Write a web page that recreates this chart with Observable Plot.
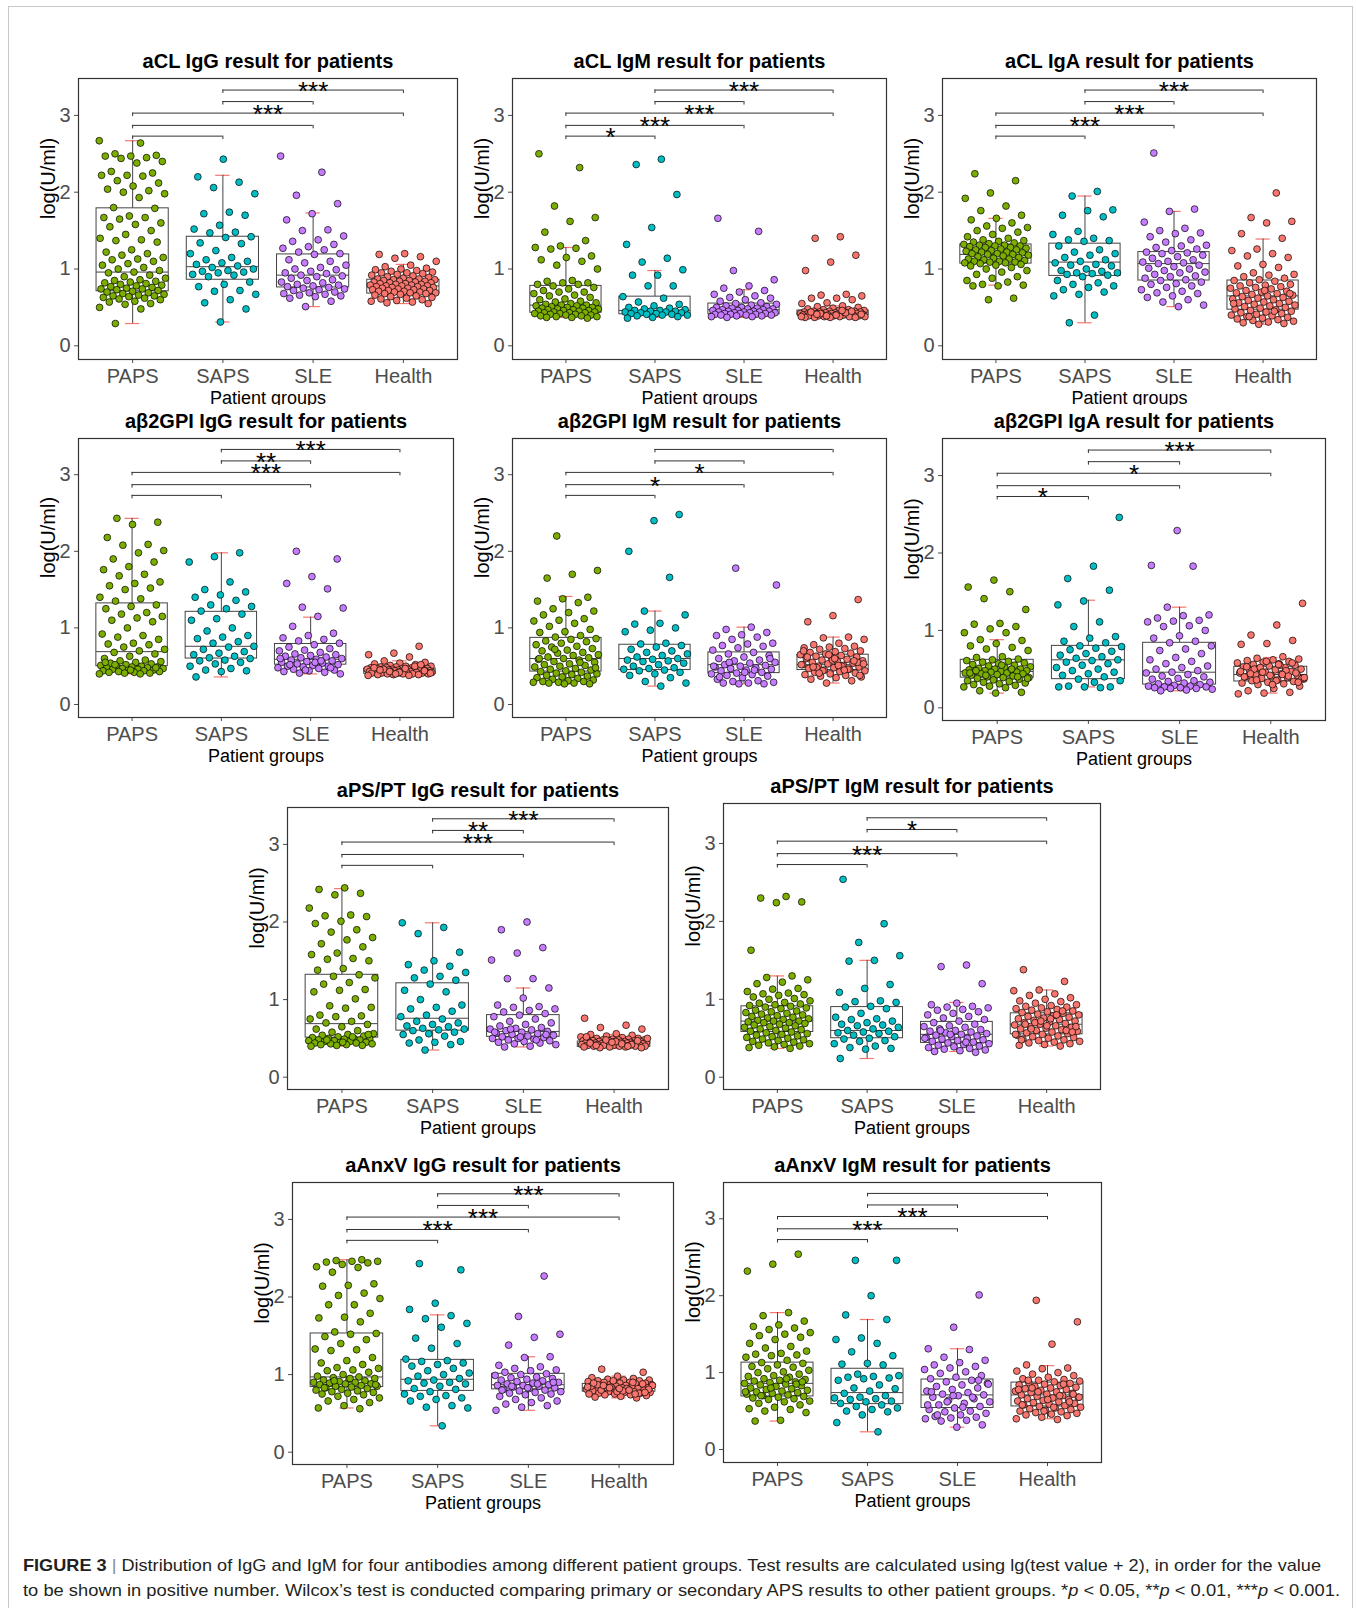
<!DOCTYPE html>
<html><head><meta charset="utf-8">
<script src="https://cdn.jsdelivr.net/npm/d3@7"></script>
<script src="https://cdn.jsdelivr.net/npm/@observablehq/plot@0.6"></script>
<style>
html,body{margin:0;padding:0;background:#fff;}
body{width:1356px;height:1608px;position:relative;overflow:hidden;font-family:"Liberation Sans",Arial,sans-serif;}
#frame{position:absolute;left:8px;top:6px;width:1345px;height:1700px;border:1px solid #c8c8c8;box-sizing:border-box;}
.panel{position:absolute;overflow:hidden;}
.panel svg{display:block;}
.cap{position:absolute;left:23px;font-size:17px;line-height:25px;color:#231f20;white-space:nowrap;transform-origin:0 0;}
.bar{color:#888;}
</style></head><body>
<div id="frame"></div>
<div class="cap" id="cap1" style="top:1553px"><b>FIGURE 3</b> <span class="bar">|</span> Distribution of IgG and IgM for four antibodies among different patient groups. Test results are calculated using lg(test value + 2), in order for the value</div>
<div class="cap" id="cap2" style="top:1578px">to be shown in positive number. Wilcox’s test is conducted comparing primary or secondary APS results to other patient groups. *<i>p</i> &lt; 0.05, **<i>p</i> &lt; 0.01, ***<i>p</i> &lt; 0.001.</div>
<script>
// ---------- categories, labels ----------
const groups = ["PAPS","SAPS","SLE","Health"];
const groupColors = ["#7CAE00","#00BFC4","#C77CFF","#F8766D"];
const comparisons = [[1,2],[1,3],[1,4],[2,3],[2,4]];
const bracketLevels = [2.73,2.87,3.03,3.18,3.33];
const yTicks = [0,1,2,3];
const titles = ["aCL IgG result for patients","aCL IgM result for patients","aCL IgA result for patients",
  "aβ2GPI IgG result for patients","aβ2GPI IgM result for patients","aβ2GPI IgA result for patients",
  "aPS/PT IgG result for patients","aPS/PT IgM result for patients",
  "aAnxV IgG result for patients","aAnxV IgM result for patients"];

// ---------- aCL IgG ----------
const aclIgG_PAPS = [2.67,2.64,2.50,2.48,2.47,2.47,2.45,2.44,2.40,2.38,2.27,2.25,2.22,2.22,2.21,2.15,2.12,2.08,2.04,2.02,2.00,1.98,1.93,1.80,1.79,1.69,1.67,1.67,1.65,1.60,1.58,1.55,1.50,1.45,1.40,1.38,1.37,1.35,1.25,1.22,1.20,1.18,1.15,1.13,1.12,1.10,1.07,1.05,1.02,1.00,0.98,0.96,0.95,0.92,0.90,0.88,0.86,0.85,0.84,0.83,0.82,0.81,0.80,0.79,0.78,0.77,0.76,0.75,0.74,0.74,0.73,0.72,0.71,0.70,0.69,0.68,0.67,0.66,0.65,0.65,0.64,0.63,0.62,0.61,0.60,0.58,0.57,0.55,0.54,0.50,0.48,0.29];
const aclIgG_SAPS = [2.43,2.20,2.13,2.06,1.98,1.74,1.72,1.70,1.57,1.52,1.48,1.47,1.42,1.41,1.34,1.33,1.24,1.20,1.15,1.12,1.10,1.08,1.06,1.04,1.02,1.00,0.98,0.97,0.96,0.95,0.93,0.92,0.90,0.83,0.80,0.77,0.72,0.71,0.67,0.60,0.56,0.48,0.31];
const aclIgG_SLE = [2.47,2.26,1.96,1.85,1.72,1.64,1.51,1.50,1.43,1.38,1.36,1.32,1.29,1.27,1.25,1.22,1.20,1.19,1.12,1.10,1.08,1.05,1.02,1.00,0.99,0.97,0.95,0.94,0.92,0.91,0.90,0.88,0.86,0.85,0.83,0.82,0.80,0.79,0.78,0.77,0.76,0.75,0.74,0.73,0.72,0.70,0.69,0.68,0.67,0.66,0.65,0.64,0.62,0.58,0.51];
const aclIgG_Health = [1.20,1.19,1.16,1.14,1.10,1.05,1.03,1.01,1.00,0.99,0.98,0.97,0.96,0.95,0.95,0.94,0.93,0.92,0.91,0.90,0.89,0.88,0.87,0.87,0.86,0.86,0.85,0.85,0.84,0.84,0.83,0.83,0.82,0.82,0.81,0.81,0.80,0.80,0.79,0.79,0.78,0.78,0.78,0.77,0.77,0.76,0.76,0.75,0.75,0.74,0.74,0.73,0.73,0.72,0.72,0.71,0.71,0.70,0.70,0.69,0.69,0.68,0.68,0.67,0.66,0.65,0.64,0.63,0.62,0.61,0.60,0.59,0.58,0.57,0.56,0.55];
const aclIgG_box = [[0.29,0.71,0.96,1.79,2.67],[0.31,0.86,1.03,1.42,2.22],[0.51,0.76,0.92,1.19,1.73],[0.55,0.68,0.78,0.86,1.06]];
const aclIgG_sig = ["","","***","","***"];

// ---------- aCL IgM ----------
const aclIgM_PAPS = [2.50,2.32,1.82,1.67,1.62,1.48,1.37,1.30,1.28,1.27,1.26,1.17,1.15,1.12,1.10,1.05,1.00,0.85,0.84,0.82,0.82,0.80,0.80,0.78,0.76,0.74,0.72,0.70,0.70,0.68,0.66,0.65,0.63,0.61,0.60,0.58,0.57,0.56,0.55,0.54,0.53,0.53,0.52,0.52,0.51,0.50,0.50,0.49,0.49,0.48,0.48,0.47,0.47,0.46,0.46,0.45,0.45,0.44,0.44,0.43,0.43,0.43,0.42,0.42,0.41,0.41,0.40,0.40,0.39,0.39,0.38,0.38,0.37,0.37,0.36];
const aclIgM_SAPS = [2.43,2.36,1.97,1.54,1.32,1.14,1.09,0.99,0.92,0.92,0.78,0.78,0.64,0.62,0.57,0.54,0.52,0.50,0.49,0.48,0.47,0.46,0.46,0.45,0.45,0.44,0.44,0.43,0.43,0.42,0.42,0.41,0.41,0.40,0.40,0.39,0.38,0.37,0.36];
const aclIgM_SLE = [1.66,1.49,0.98,0.86,0.78,0.75,0.72,0.70,0.67,0.65,0.63,0.62,0.60,0.58,0.56,0.55,0.54,0.53,0.52,0.51,0.50,0.50,0.49,0.49,0.48,0.48,0.47,0.47,0.46,0.46,0.45,0.45,0.45,0.44,0.44,0.44,0.43,0.43,0.43,0.42,0.42,0.42,0.41,0.41,0.41,0.40,0.40,0.40,0.39,0.39,0.38,0.38,0.37];
const aclIgM_Health = [1.42,1.40,1.18,1.09,0.98,0.67,0.66,0.65,0.62,0.62,0.60,0.56,0.55,0.52,0.51,0.50,0.49,0.48,0.47,0.47,0.46,0.46,0.45,0.45,0.45,0.44,0.44,0.44,0.44,0.43,0.43,0.43,0.43,0.42,0.42,0.42,0.42,0.42,0.41,0.41,0.41,0.41,0.41,0.40,0.40,0.40,0.40,0.40,0.39,0.39,0.39,0.39,0.38,0.38,0.38,0.38,0.37,0.37,0.37,0.37,0.43,0.42,0.41,0.40,0.44,0.45,0.39,0.38,0.46,0.41];
const aclIgM_box = [[0.37,0.43,0.53,0.78,1.28],[0.37,0.41,0.46,0.64,0.98],[0.37,0.41,0.47,0.55,0.73],[0.37,0.40,0.43,0.46,0.52]];
const aclIgM_sig = ["*","***","***","","***"];

// ---------- aCL IgA ----------
const aclIgA_PAPS = [2.24,2.15,1.99,1.92,1.82,1.76,1.70,1.66,1.64,1.60,1.56,1.54,1.53,1.50,1.48,1.45,1.42,1.40,1.38,1.37,1.36,1.35,1.34,1.33,1.32,1.31,1.31,1.30,1.30,1.29,1.28,1.28,1.27,1.26,1.25,1.25,1.24,1.23,1.22,1.22,1.21,1.20,1.20,1.19,1.19,1.18,1.17,1.16,1.15,1.14,1.13,1.13,1.12,1.11,1.10,1.10,1.09,1.09,1.08,1.08,1.07,1.06,1.05,1.04,1.02,1.00,0.98,0.96,0.93,0.90,0.88,0.85,0.83,0.80,0.79,0.78,0.78,0.62,0.60];
const aclIgA_SAPS = [2.01,1.95,1.77,1.76,1.70,1.68,1.49,1.45,1.40,1.38,1.37,1.36,1.30,1.25,1.22,1.20,1.18,1.15,1.12,1.10,1.08,1.06,1.05,1.04,1.00,0.98,0.97,0.95,0.95,0.94,0.93,0.92,0.90,0.85,0.82,0.80,0.78,0.76,0.73,0.70,0.67,0.65,0.40,0.30];
const aclIgA_SLE = [2.51,1.78,1.75,1.61,1.53,1.50,1.47,1.46,1.42,1.38,1.35,1.31,1.30,1.28,1.26,1.24,1.22,1.21,1.20,1.18,1.16,1.14,1.12,1.10,1.09,1.08,1.07,1.05,1.03,1.01,1.00,0.98,0.96,0.95,0.93,0.91,0.90,0.88,0.86,0.85,0.83,0.81,0.80,0.78,0.76,0.73,0.71,0.69,0.68,0.65,0.63,0.60,0.57,0.53,0.51];
const aclIgA_Health = [1.99,1.67,1.62,1.60,1.46,1.40,1.26,1.24,1.20,1.17,1.15,1.06,1.04,1.02,0.95,0.93,0.92,0.90,0.88,0.86,0.85,0.84,0.82,0.80,0.79,0.78,0.77,0.76,0.75,0.74,0.72,0.71,0.70,0.69,0.68,0.67,0.66,0.65,0.64,0.63,0.62,0.61,0.60,0.59,0.58,0.57,0.56,0.55,0.54,0.53,0.52,0.51,0.50,0.49,0.48,0.47,0.46,0.45,0.44,0.43,0.42,0.41,0.40,0.39,0.38,0.37,0.36,0.35,0.34,0.33,0.32,0.31,0.30,0.29,0.28,0.55,0.45,0.38,0.68,0.72];
const aclIgA_box = [[0.79,1.07,1.19,1.32,1.66],[0.30,0.91,1.09,1.33,1.95],[0.51,0.85,1.07,1.22,1.75],[0.28,0.47,0.65,0.85,1.39]];
const aclIgA_sig = ["","***","***","","***"];

// ---------- aβ2GPI IgG ----------
const b2gpiIgG_PAPS = [2.43,2.38,2.35,2.18,2.09,2.08,2.01,1.98,1.90,1.86,1.80,1.76,1.70,1.68,1.60,1.58,1.55,1.52,1.50,1.40,1.38,1.35,1.30,1.28,1.25,1.20,1.18,1.15,1.13,1.10,1.08,1.00,0.92,0.90,0.88,0.85,0.80,0.79,0.78,0.75,0.72,0.70,0.68,0.66,0.63,0.60,0.58,0.57,0.56,0.55,0.54,0.53,0.52,0.51,0.50,0.50,0.49,0.49,0.48,0.48,0.47,0.47,0.46,0.46,0.45,0.45,0.44,0.44,0.43,0.43,0.42,0.42,0.41,0.41,0.40,0.40,0.52,0.48,0.45,0.55];
const b2gpiIgG_SAPS = [1.98,1.93,1.86,1.60,1.50,1.47,1.43,1.40,1.36,1.30,1.28,1.25,1.22,1.18,1.12,1.10,1.00,0.96,0.90,0.88,0.86,0.82,0.80,0.76,0.75,0.72,0.69,0.67,0.65,0.63,0.61,0.60,0.58,0.57,0.55,0.53,0.50,0.47,0.45,0.44,0.43,0.36];
const b2gpiIgG_SLE = [2.00,1.90,1.67,1.58,1.51,1.27,1.26,1.15,1.02,0.93,0.90,0.87,0.85,0.83,0.80,0.78,0.75,0.73,0.71,0.70,0.68,0.66,0.65,0.64,0.63,0.62,0.61,0.60,0.59,0.58,0.57,0.56,0.55,0.54,0.53,0.52,0.51,0.50,0.50,0.49,0.48,0.47,0.46,0.45,0.44,0.43,0.42,0.41,0.40,0.55,0.52,0.48,0.45,0.60,0.57];
const b2gpiIgG_Health = [0.76,0.67,0.65,0.62,0.57,0.55,0.54,0.53,0.52,0.51,0.50,0.50,0.49,0.49,0.49,0.48,0.48,0.48,0.47,0.47,0.47,0.47,0.46,0.46,0.46,0.46,0.45,0.45,0.45,0.45,0.45,0.44,0.44,0.44,0.44,0.44,0.43,0.43,0.43,0.43,0.43,0.42,0.42,0.42,0.42,0.42,0.41,0.41,0.41,0.41,0.40,0.40,0.40,0.40,0.39,0.39,0.39,0.38,0.38,0.46,0.44,0.42,0.48,0.50,0.43,0.41,0.47,0.45,0.52,0.40];
const b2gpiIgG_box = [[0.40,0.50,0.69,1.32,2.43],[0.36,0.60,0.76,1.21,1.98],[0.40,0.52,0.59,0.79,1.14],[0.37,0.40,0.44,0.47,0.57]];
const b2gpiIgG_sig = ["","","***","**","***"];

// ---------- aβ2GPI IgM ----------
const b2gpiIgM_PAPS = [2.20,1.75,1.70,1.65,1.40,1.38,1.35,1.33,1.25,1.22,1.20,1.17,1.12,1.10,1.09,1.06,1.02,0.98,0.95,0.94,0.90,0.88,0.86,0.85,0.83,0.82,0.80,0.78,0.76,0.75,0.73,0.71,0.70,0.68,0.67,0.65,0.64,0.62,0.61,0.60,0.59,0.58,0.56,0.55,0.53,0.52,0.51,0.50,0.49,0.47,0.46,0.45,0.44,0.43,0.42,0.41,0.40,0.39,0.38,0.37,0.36,0.35,0.34,0.33,0.32,0.31,0.30,0.30,0.29,0.29,0.28,0.28,0.27,0.27,0.60,0.55,0.72,0.48];
const b2gpiIgM_SAPS = [2.48,2.40,2.00,1.66,1.22,1.17,1.06,1.05,1.00,0.97,0.95,0.80,0.79,0.77,0.75,0.72,0.70,0.68,0.66,0.64,0.62,0.60,0.59,0.58,0.57,0.56,0.54,0.52,0.50,0.48,0.47,0.46,0.45,0.44,0.42,0.40,0.38,0.35,0.30,0.28,0.24];
const b2gpiIgM_SLE = [1.78,1.56,1.01,0.98,0.94,0.91,0.90,0.88,0.85,0.80,0.79,0.77,0.76,0.74,0.71,0.68,0.66,0.64,0.62,0.60,0.58,0.57,0.55,0.54,0.52,0.51,0.50,0.49,0.48,0.47,0.46,0.45,0.44,0.42,0.41,0.40,0.39,0.38,0.37,0.35,0.33,0.31,0.30,0.29,0.28,0.28,0.27,0.27,0.50,0.45,0.55,0.60,0.42,0.36];
const b2gpiIgM_Health = [1.37,1.16,1.08,0.88,0.87,0.85,0.80,0.78,0.76,0.75,0.74,0.73,0.72,0.70,0.69,0.68,0.67,0.66,0.65,0.64,0.63,0.62,0.61,0.60,0.59,0.58,0.57,0.56,0.55,0.54,0.53,0.52,0.51,0.50,0.49,0.48,0.47,0.46,0.45,0.44,0.43,0.42,0.41,0.40,0.39,0.38,0.37,0.36,0.35,0.33,0.31,0.28,0.52,0.50,0.48,0.55,0.58,0.62,0.46,0.44,0.53,0.51,0.49,0.57,0.65,0.70,0.45,0.41,0.38,0.60];
const b2gpiIgM_box = [[0.27,0.43,0.60,0.87,1.41],[0.24,0.45,0.60,0.78,1.22],[0.27,0.41,0.52,0.68,1.01],[0.28,0.45,0.52,0.65,0.88]];
const b2gpiIgM_sig = ["","*","*","",""];

// ---------- aβ2GPI IgA ----------
const b2gpiIgA_PAPS = [1.65,1.56,1.50,1.41,1.27,1.09,1.08,1.05,1.02,0.97,0.97,0.88,0.87,0.83,0.80,0.78,0.76,0.74,0.66,0.65,0.63,0.62,0.61,0.60,0.59,0.58,0.57,0.56,0.55,0.54,0.53,0.52,0.51,0.50,0.50,0.49,0.49,0.48,0.48,0.47,0.47,0.46,0.46,0.45,0.45,0.44,0.44,0.43,0.42,0.41,0.40,0.39,0.39,0.38,0.37,0.36,0.35,0.34,0.33,0.32,0.31,0.30,0.29,0.28,0.27,0.26,0.22,0.20,0.19,0.45,0.50,0.42,0.38,0.55,0.48,0.40];
const b2gpiIgA_SAPS = [2.46,1.83,1.67,1.52,1.38,1.33,1.11,1.05,0.92,0.90,0.86,0.84,0.80,0.79,0.77,0.75,0.73,0.70,0.68,0.66,0.64,0.62,0.61,0.59,0.57,0.55,0.52,0.50,0.48,0.46,0.44,0.42,0.40,0.37,0.35,0.33,0.28,0.27,0.27,0.27,0.26];
const b2gpiIgA_SLE = [2.29,1.84,1.83,1.30,1.20,1.19,1.16,1.13,1.12,1.11,1.06,1.05,1.00,0.93,0.90,0.86,0.84,0.80,0.76,0.74,0.70,0.65,0.62,0.60,0.57,0.54,0.52,0.50,0.48,0.46,0.45,0.43,0.41,0.40,0.38,0.37,0.35,0.34,0.33,0.32,0.31,0.30,0.29,0.28,0.28,0.27,0.27,0.26,0.26,0.25,0.25,0.24,0.23,0.22];
const b2gpiIgA_Health = [1.35,1.07,0.94,0.87,0.83,0.82,0.66,0.64,0.63,0.62,0.61,0.60,0.59,0.58,0.57,0.56,0.55,0.54,0.53,0.52,0.51,0.50,0.49,0.48,0.47,0.46,0.45,0.44,0.43,0.42,0.41,0.40,0.39,0.38,0.37,0.36,0.35,0.34,0.33,0.32,0.31,0.30,0.28,0.25,0.22,0.20,0.19,0.18,0.55,0.50,0.45,0.42,0.40,0.48,0.52,0.38,0.35,0.44,0.58,0.60,0.47,0.43,0.36,0.33,0.30,0.53,0.41,0.46,0.39,0.56];
const b2gpiIgA_box = [[0.19,0.39,0.47,0.62,0.88],[0.27,0.37,0.62,0.80,1.39],[0.22,0.30,0.46,0.84,1.30],[0.19,0.34,0.43,0.53,0.65]];
const b2gpiIgA_sig = ["*","","*","","***"];

// ---------- aPS/PT IgG ----------
const psptIgG_PAPS = [2.44,2.42,2.37,2.35,2.18,2.09,2.08,2.07,2.01,1.98,1.90,1.87,1.80,1.77,1.72,1.68,1.60,1.58,1.53,1.52,1.50,1.40,1.38,1.32,1.30,1.28,1.22,1.20,1.13,1.12,1.10,1.01,0.92,0.90,0.89,0.80,0.79,0.78,0.75,0.72,0.70,0.68,0.65,0.62,0.60,0.58,0.56,0.55,0.54,0.53,0.52,0.51,0.50,0.50,0.49,0.49,0.48,0.48,0.47,0.47,0.46,0.46,0.45,0.45,0.44,0.44,0.43,0.43,0.42,0.42,0.41,0.41,0.40,0.52,0.48,0.55,0.45];
const psptIgG_SAPS = [1.99,1.93,1.85,1.61,1.50,1.45,1.43,1.38,1.35,1.30,1.28,1.25,1.20,1.12,1.10,1.00,0.93,0.90,0.88,0.85,0.80,0.78,0.75,0.72,0.70,0.68,0.66,0.65,0.63,0.62,0.61,0.60,0.58,0.56,0.55,0.53,0.48,0.46,0.45,0.44,0.42,0.35];
const psptIgG_SLE = [2.00,1.90,1.67,1.60,1.51,1.27,1.27,1.15,1.02,0.93,0.91,0.90,0.88,0.86,0.84,0.82,0.80,0.78,0.75,0.72,0.70,0.68,0.66,0.64,0.63,0.62,0.61,0.60,0.59,0.58,0.57,0.56,0.55,0.54,0.53,0.52,0.51,0.50,0.50,0.49,0.48,0.47,0.46,0.45,0.44,0.43,0.42,0.40,0.39,0.55,0.52,0.58,0.48,0.62];
const psptIgG_Health = [0.76,0.67,0.64,0.62,0.56,0.55,0.54,0.53,0.52,0.51,0.50,0.50,0.49,0.49,0.49,0.48,0.48,0.48,0.47,0.47,0.47,0.47,0.46,0.46,0.46,0.46,0.45,0.45,0.45,0.45,0.45,0.44,0.44,0.44,0.44,0.44,0.43,0.43,0.43,0.43,0.43,0.42,0.42,0.42,0.42,0.42,0.41,0.41,0.41,0.41,0.40,0.40,0.40,0.40,0.39,0.39,0.39,0.38,0.38,0.46,0.44,0.42,0.48,0.50,0.43,0.41,0.47,0.45,0.52,0.40];
const psptIgG_box = [[0.40,0.51,0.69,1.32,2.43],[0.35,0.60,0.76,1.21,1.99],[0.39,0.52,0.59,0.80,1.15],[0.37,0.39,0.43,0.46,0.55]];
const psptIgG_sig = ["","","***","**","***"];

// ---------- aPS/PT IgM ----------
const psptIgM_PAPS = [2.32,2.30,2.25,2.24,1.63,1.30,1.28,1.25,1.22,1.20,1.14,1.13,1.10,1.08,1.07,1.06,1.05,1.03,1.01,1.00,0.98,0.96,0.95,0.94,0.93,0.92,0.91,0.90,0.89,0.88,0.86,0.85,0.84,0.83,0.82,0.81,0.80,0.79,0.78,0.77,0.76,0.75,0.74,0.73,0.72,0.72,0.71,0.70,0.70,0.69,0.68,0.67,0.66,0.65,0.64,0.63,0.62,0.61,0.60,0.59,0.58,0.57,0.56,0.55,0.54,0.53,0.52,0.51,0.50,0.49,0.48,0.47,0.46,0.45,0.44,0.43,0.42,0.41,0.40,0.39,0.38,0.37];
const psptIgM_SAPS = [2.54,1.97,1.73,1.56,1.50,1.49,1.19,1.14,1.09,0.98,0.97,0.96,0.91,0.90,0.88,0.82,0.77,0.75,0.74,0.72,0.70,0.68,0.67,0.66,0.64,0.62,0.60,0.59,0.58,0.57,0.56,0.54,0.52,0.50,0.49,0.47,0.46,0.43,0.40,0.38,0.37,0.36,0.24];
const psptIgM_SLE = [1.44,1.42,1.20,0.95,0.93,0.91,0.90,0.89,0.87,0.86,0.84,0.82,0.80,0.78,0.76,0.74,0.72,0.70,0.68,0.66,0.65,0.64,0.62,0.61,0.60,0.59,0.58,0.57,0.56,0.55,0.54,0.53,0.52,0.51,0.50,0.49,0.48,0.47,0.46,0.45,0.44,0.43,0.42,0.41,0.40,0.39,0.38,0.37,0.36,0.35,0.34,0.33,0.32,0.55,0.50,0.45,0.60];
const psptIgM_Health = [1.38,1.23,1.12,1.11,1.07,1.05,1.02,1.00,0.98,0.97,0.95,0.93,0.92,0.91,0.90,0.89,0.88,0.87,0.86,0.85,0.84,0.83,0.82,0.81,0.80,0.79,0.78,0.77,0.76,0.75,0.74,0.73,0.72,0.71,0.70,0.69,0.68,0.67,0.66,0.65,0.64,0.63,0.62,0.61,0.60,0.59,0.58,0.57,0.56,0.55,0.54,0.53,0.52,0.51,0.50,0.49,0.48,0.47,0.46,0.45,0.44,0.43,0.42,0.41,0.40,0.70,0.65,0.75,0.68,0.60,0.72,0.55,0.80,0.62,0.58,0.66,0.48,0.85];
const psptIgM_box = [[0.37,0.58,0.72,0.91,1.30],[0.24,0.50,0.60,0.90,1.50],[0.33,0.44,0.55,0.71,0.96],[0.40,0.55,0.68,0.82,1.12]];
const psptIgM_sig = ["","***","","*",""];

// ---------- aAnxV IgG ----------
const anxvIgG_PAPS = [2.48,2.47,2.46,2.46,2.45,2.44,2.42,2.39,2.38,2.32,2.17,2.15,2.14,2.05,2.02,1.98,1.90,1.90,1.79,1.74,1.73,1.68,1.55,1.53,1.52,1.49,1.45,1.40,1.33,1.32,1.31,1.22,1.18,1.15,1.13,1.09,1.08,1.06,1.05,1.03,1.00,0.98,0.97,0.96,0.95,0.94,0.93,0.92,0.91,0.90,0.90,0.89,0.88,0.88,0.87,0.86,0.85,0.85,0.84,0.83,0.82,0.81,0.80,0.79,0.78,0.77,0.76,0.75,0.74,0.72,0.70,0.68,0.66,0.64,0.60,0.57,0.56,0.92,0.87,0.95,0.83];
const anxvIgG_SAPS = [2.43,2.35,1.92,1.84,1.76,1.72,1.66,1.61,1.47,1.40,1.34,1.20,1.18,1.17,1.15,1.13,1.11,1.08,1.05,1.02,1.00,0.98,0.95,0.93,0.92,0.90,0.89,0.88,0.85,0.82,0.81,0.78,0.75,0.73,0.72,0.70,0.68,0.66,0.60,0.58,0.57,0.34];
const anxvIgG_SLE = [2.27,1.75,1.52,1.48,1.38,1.23,1.22,1.12,1.10,1.08,1.06,1.05,1.03,1.01,1.00,0.99,0.97,0.96,0.95,0.94,0.93,0.92,0.91,0.90,0.89,0.88,0.87,0.86,0.86,0.85,0.84,0.83,0.82,0.81,0.80,0.79,0.78,0.77,0.76,0.75,0.74,0.72,0.70,0.68,0.66,0.64,0.62,0.60,0.58,0.54,0.88,0.85,0.90,0.83,0.80];
const anxvIgG_Health = [1.07,1.03,0.98,0.96,0.95,0.94,0.93,0.93,0.92,0.92,0.91,0.91,0.90,0.90,0.89,0.89,0.88,0.88,0.87,0.87,0.86,0.86,0.85,0.85,0.84,0.84,0.83,0.83,0.83,0.82,0.82,0.82,0.81,0.81,0.80,0.80,0.79,0.79,0.78,0.78,0.77,0.77,0.76,0.76,0.75,0.75,0.74,0.74,0.73,0.72,0.71,0.70,0.84,0.86,0.82,0.80,0.88,0.78,0.85,0.90,0.83,0.81,0.79,0.87,0.76,0.92,0.84,0.80,0.86,0.77,0.82,0.89,0.75,0.83];
const anxvIgG_box = [[0.57,0.84,0.97,1.53,2.48],[0.34,0.79,0.94,1.19,1.77],[0.54,0.81,0.87,1.01,1.23],[0.70,0.78,0.83,0.88,0.98]];
const anxvIgG_sig = ["","***","***","","***"];

// ---------- aAnxV IgM ----------
const anxvIgM_PAPS = [2.54,2.41,2.32,1.78,1.74,1.67,1.62,1.60,1.58,1.56,1.52,1.50,1.48,1.46,1.43,1.38,1.34,1.32,1.28,1.25,1.24,1.23,1.22,1.20,1.16,1.13,1.12,1.10,1.08,1.07,1.05,1.03,1.01,1.00,0.98,0.96,0.95,0.94,0.92,0.91,0.90,0.89,0.88,0.87,0.86,0.85,0.84,0.83,0.82,0.80,0.79,0.78,0.77,0.76,0.75,0.74,0.73,0.72,0.71,0.70,0.69,0.68,0.67,0.66,0.65,0.63,0.62,0.60,0.58,0.55,0.53,0.52,0.50,0.48,0.38,0.37,0.85,0.80,0.75,0.92,0.70,0.88];
const anxvIgM_SAPS = [2.46,2.46,2.00,1.75,1.69,1.45,1.43,1.38,1.27,1.22,1.12,1.11,1.10,0.98,0.96,0.95,0.94,0.93,0.92,0.90,0.84,0.80,0.79,0.76,0.73,0.70,0.68,0.67,0.66,0.65,0.63,0.62,0.60,0.58,0.56,0.54,0.52,0.50,0.49,0.45,0.35,0.23];
const anxvIgM_SLE = [2.01,1.59,1.31,1.30,1.20,1.16,1.13,1.10,1.08,1.06,1.04,1.01,0.99,0.96,0.94,0.92,0.90,0.88,0.86,0.84,0.82,0.80,0.78,0.76,0.74,0.72,0.71,0.70,0.68,0.66,0.64,0.62,0.60,0.58,0.56,0.54,0.52,0.50,0.49,0.47,0.45,0.43,0.42,0.41,0.40,0.38,0.37,0.32,0.29,0.75,0.68,0.62,0.85,0.55,0.45,0.90,0.70,0.58];
const anxvIgM_Health = [1.94,1.66,1.37,1.10,1.06,1.05,1.02,1.00,0.98,0.96,0.94,0.92,0.91,0.90,0.89,0.88,0.87,0.86,0.85,0.84,0.83,0.82,0.81,0.80,0.79,0.78,0.77,0.76,0.75,0.74,0.73,0.72,0.71,0.70,0.69,0.68,0.67,0.66,0.65,0.64,0.63,0.62,0.61,0.60,0.59,0.58,0.57,0.56,0.55,0.54,0.53,0.52,0.51,0.50,0.49,0.48,0.47,0.46,0.45,0.44,0.42,0.40,0.39,0.80,0.72,0.65,0.58,0.85,0.75,0.68,0.55,0.90,0.62,0.50,0.78,0.70];
const anxvIgM_box = [[0.37,0.69,0.86,1.13,1.78],[0.23,0.59,0.74,1.05,1.69],[0.29,0.54,0.71,0.91,1.31],[0.40,0.56,0.71,0.87,1.09]];
const anxvIgM_sig = ["","***","***","",""];

// ---------- assemble ----------
const panelValues = [
  [aclIgG_PAPS,aclIgG_SAPS,aclIgG_SLE,aclIgG_Health],
  [aclIgM_PAPS,aclIgM_SAPS,aclIgM_SLE,aclIgM_Health],
  [aclIgA_PAPS,aclIgA_SAPS,aclIgA_SLE,aclIgA_Health],
  [b2gpiIgG_PAPS,b2gpiIgG_SAPS,b2gpiIgG_SLE,b2gpiIgG_Health],
  [b2gpiIgM_PAPS,b2gpiIgM_SAPS,b2gpiIgM_SLE,b2gpiIgM_Health],
  [b2gpiIgA_PAPS,b2gpiIgA_SAPS,b2gpiIgA_SLE,b2gpiIgA_Health],
  [psptIgG_PAPS,psptIgG_SAPS,psptIgG_SLE,psptIgG_Health],
  [psptIgM_PAPS,psptIgM_SAPS,psptIgM_SLE,psptIgM_Health],
  [anxvIgG_PAPS,anxvIgG_SAPS,anxvIgG_SLE,anxvIgG_Health],
  [anxvIgM_PAPS,anxvIgM_SAPS,anxvIgM_SLE,anxvIgM_Health]];
const panelBoxes = [aclIgG_box,aclIgM_box,aclIgA_box,b2gpiIgG_box,b2gpiIgM_box,b2gpiIgA_box,psptIgG_box,psptIgM_box,anxvIgG_box,anxvIgM_box];
const panelSig = [aclIgG_sig,aclIgM_sig,aclIgA_sig,b2gpiIgG_sig,b2gpiIgM_sig,b2gpiIgA_sig,psptIgG_sig,psptIgM_sig,anxvIgG_sig,anxvIgM_sig];

// page layout: frame edges (px) and pixel of y=0 / px per unit
const layout = [
  {l:78,t:78,r:457,b:359,y0:345.3,u:76.8,clip:405},
  {l:512,t:78,r:886,b:359,y0:345.3,u:76.8,clip:405},
  {l:942,t:78,r:1316,b:359,y0:345.3,u:76.8,clip:405},
  {l:78,t:438,r:453,b:717,y0:704,u:76.6},
  {l:512,t:438,r:886,b:717,y0:704,u:76.6},
  {l:942,t:438,r:1325,b:720,y0:707.3,u:77.4},
  {l:287,t:807,r:668,b:1089,y0:1076.7,u:77.6},
  {l:723,t:803,r:1100,b:1089,y0:1076.7,u:77.9},
  {l:292,t:1182,r:673,b:1464,y0:1451.7,u:77.6},
  {l:723,t:1182,r:1101,b:1462,y0:1449,u:76.9}];

const FONT = "Liberation Sans, Arial, Helvetica, sans-serif";
const ML=52, MT=40, MR=10, MB=62;
const GOLD = 0.6180339887;

panelValues.forEach((vals, k) => {
  const L = layout[k];
  const w = L.r - L.l, h = L.b - L.t;
  const pts = [];
  vals.forEach((arr, gi) => arr.forEach((v, i) => {
    const j = (((i + gi * 17 + k * 5) * GOLD) % 1) - 0.5;
    pts.push({x: gi + 1 + j * 0.74, y: v, c: groupColors[gi]});
  }));
  const boxes = panelBoxes[k].map((b, gi) => ({x: gi + 1, lo: b[0], q1: b[1], med: b[2], q3: b[3], hi: b[4]}));
  const br = comparisons.map(([a, b], i) => ({x1: a, x2: b, y: bracketLevels[i], label: panelSig[k][i]}));
  const ends = br.flatMap(d => [{x: d.x1, y: d.y}, {x: d.x2, y: d.y}]);
  const svg = Plot.plot({
    width: ML + w + MR, height: MT + h + MB,
    marginLeft: ML, marginTop: MT, marginRight: MR, marginBottom: MB,
    style: {fontFamily: FONT, background: "transparent", overflow: "visible"},
    x: {domain: [0.4, 4.6]},
    y: {domain: [(L.y0 - L.b) / L.u, (L.y0 - L.t) / L.u]},
    marks: [
      Plot.axisY({ticks: yTicks, tickFormat: d => String(d), tickSize: 4, tickPadding: 4, fontSize: 20, color: "#4d4d4d", label: null}),
      Plot.axisX({ticks: [1, 2, 3, 4], tickFormat: d => groups[d - 1], tickSize: 4, tickPadding: 5, fontSize: 20, color: "#4d4d4d", label: null}),
      // error-bar caps
      Plot.ruleY(boxes, {y: "lo", x1: d => d.x - 0.08, x2: d => d.x + 0.08, stroke: "#F8766D", strokeWidth: 1.2}),
      Plot.ruleY(boxes, {y: "hi", x1: d => d.x - 0.08, x2: d => d.x + 0.08, stroke: "#F8766D", strokeWidth: 1.2}),
      // whiskers
      Plot.ruleX(boxes, {x: "x", y1: "lo", y2: "q1", stroke: "#444", strokeWidth: 1}),
      Plot.ruleX(boxes, {x: "x", y1: "q3", y2: "hi", stroke: "#444", strokeWidth: 1}),
      // boxes
      Plot.rect(boxes, {x1: d => d.x - 0.4, x2: d => d.x + 0.4, y1: "q1", y2: "q3", fill: "none", stroke: "#444", strokeWidth: 1}),
      Plot.ruleY(boxes, {y: "med", x1: d => d.x - 0.4, x2: d => d.x + 0.4, stroke: "#444", strokeWidth: 1}),
      // jittered points
      Plot.dot(pts, {x: "x", y: "y", r: 3.4, fill: "c", stroke: "#000", strokeWidth: 0.7}),
      // significance brackets
      Plot.ruleY(br, {y: "y", x1: "x1", x2: "x2", stroke: "#333", strokeWidth: 1}),
      Plot.ruleX(ends, {x: "x", y1: "y", y2: d => d.y - 0.045, stroke: "#333", strokeWidth: 1}),
      Plot.text(br.filter(d => d.label), {x: d => (d.x1 + d.x2) / 2, y: "y", text: "label", fontSize: 26, lineAnchor: "bottom", dy: 10, fill: "#000"}),
      Plot.frame({stroke: "#333", strokeWidth: 1.2}),
      // titles
      Plot.text([titles[k]], {text: d => d, frameAnchor: "top", dy: -17, fontSize: 20, fontWeight: "bold", lineAnchor: "middle", fill: "#000"}),
      Plot.text(["log(U/ml)"], {text: d => d, frameAnchor: "left", dx: -30, rotate: -90, fontSize: 20, lineAnchor: "middle", fill: "#000"}),
      Plot.text(["Patient groups"], {text: d => d, frameAnchor: "bottom", dy: 39, fontSize: 18, lineAnchor: "middle", fill: "#000"})
    ]
  });
  const div = document.createElement("div");
  div.className = "panel";
  const top = L.t - MT;
  div.style.left = (L.l - ML) + "px";
  div.style.top = top + "px";
  div.style.width = (ML + w + MR) + "px";
  div.style.height = (L.clip ? L.clip - top : MT + h + MB) + "px";
  div.appendChild(svg);
  document.body.appendChild(div);
});

// fit caption lines to the reference widths
[["cap1", 1298], ["cap2", 1317]].forEach(([id, target]) => {
  const el = document.getElementById(id);
  const wNow = el.getBoundingClientRect().width;
  if (wNow > 0) el.style.transform = `scaleX(${target / wNow})`;
});
</script>
</body></html>
